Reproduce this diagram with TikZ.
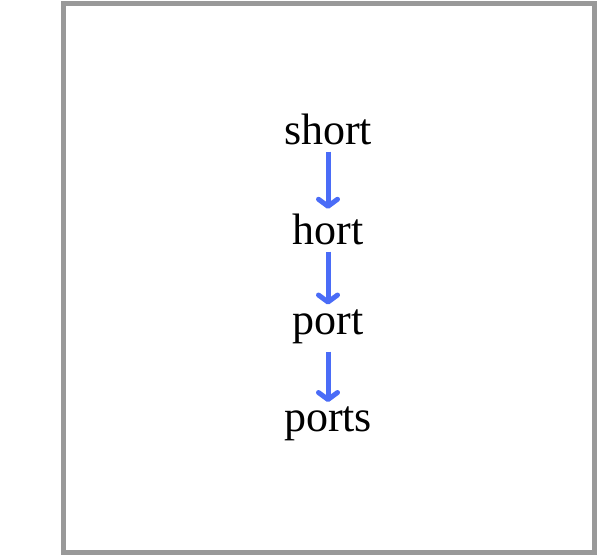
\documentclass[tikz,border=0pt]{standalone}
\usepackage{fontspec}
\setmainfont{Liberation Serif}
\usetikzlibrary{arrows.meta}
\definecolor{arrowblue}{HTML}{4A6CF7}
\definecolor{framegray}{HTML}{999999}
\tikzset{
  word/.style={anchor=base, inner sep=0pt, font=\fontsize{44}{44}\selectfont},
  link/.style={draw=arrowblue, line width=5pt, -{Straight Barb[length=7pt,width=19pt,round]}},
}
\begin{document}
\begin{tikzpicture}[x=1pt,y=1pt]
\useasboundingbox (0,0) rectangle (615,556);
\draw[framegray, line width=5pt] (63.5,3.5) rectangle (594.5,552.5);
\node[word] (w1) at (328,411) {short};
\node[word] (w2) at (328,311) {hort};
\node[word] (w3) at (328,221) {port};
\node[word] (w4) at (328,124) {ports};
\draw[link] ([yshift=-6pt]w1.south) -- ([yshift=5.5pt]w2.north);
\draw[link] ([yshift=-6pt]w2.south) -- ([yshift=5.5pt]w3.north);
\draw[link] ([yshift=-7pt]w3.south) -- ([yshift=5pt]w4.north);
\end{tikzpicture}
\end{document}
